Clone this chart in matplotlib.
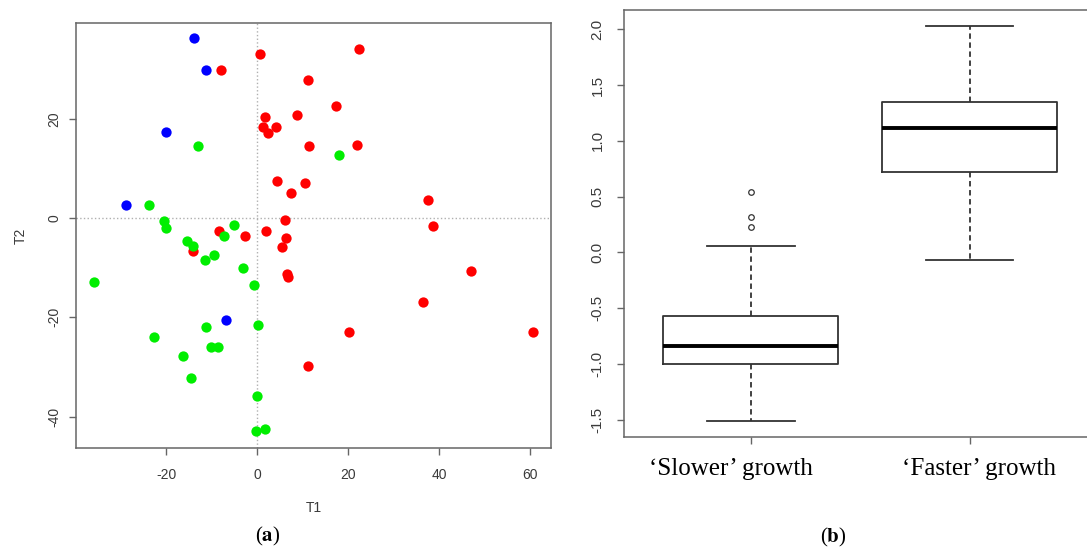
import numpy as np
import matplotlib
matplotlib.use("Agg")
import matplotlib.pyplot as plt

# (a) scores on T1 / T2, one pair of lists per group
red_t1 = [0.7, -7.9, 22.3, 11.1, 17.4, 8.8, 1.8, 1.2, 2.3, 4.2, 11.4, 22.0, 4.4, 7.4, 10.6,
          37.5, 38.7, 6.1, 1.9, 6.3, 5.4, -8.3, -2.6, -14.1, 6.5, 6.7, 47.0, 36.4, 20.2, 60.6, 11.3]
red_t2 = [33.1, 29.8, 34.1, 27.9, 22.6, 20.7, 20.4, 18.3, 17.1, 18.3, 14.6, 14.8, 7.5, 5.1, 7.1,
          3.7, -1.6, -0.4, -2.7, -4.0, -5.9, -2.6, -3.6, -6.7, -11.2, -11.8, -10.6, -16.9, -22.9, -22.9, -29.9]

green_t1 = [-13.0, 18.0, -23.7, -20.5, -20.1, -5.0, -7.2, -15.5, -14.1, -11.4, -9.5, -3.0,
            -0.7, -35.8, 0.1, -11.2, -22.6, -10.2, -8.5, -16.2, -14.5, 0.0, -0.3, 1.8]
green_t2 = [14.6, 12.8, 2.7, -0.5, -1.9, -1.4, -3.7, -4.7, -5.7, -8.4, -7.4, -10.1,
            -13.4, -12.8, -21.5, -22.0, -24.0, -25.9, -25.9, -27.8, -32.2, -35.8, -43.0, -42.5]

blue_t1 = [-13.8, -11.2, -20.1, -28.9, -6.9]
blue_t2 = [36.3, 29.9, 17.3, 2.7, -20.6]

# (b) box summaries
groups = ["\u2018Slower\u2019 growth", "\u2018Faster\u2019 growth"]
box_q1 = [-1.00, 0.723]
box_med = [-0.838, 1.112]
box_q3 = [-0.569, 1.345]
box_lo = [-1.51, -0.069]
box_hi = [0.059, 2.027]
box_out = [[0.538, 0.317, 0.230], []]

TICK_COLOR = "#3a3a3a"
SPINE_COLOR = "#666666"


def r_style_axes(ax, label_size, pad):
    for s in ax.spines.values():
        s.set_color(SPINE_COLOR)
        s.set_linewidth(1.1)
    ax.tick_params(direction="out", length=5, width=1.0, color=SPINE_COLOR,
                   labelcolor=TICK_COLOR, labelsize=label_size, pad=pad)
    ax.tick_params(axis="y", labelrotation=90)
    for lab in ax.get_yticklabels():
        lab.set_va("center")


def draw_scatter(fig):
    ax = fig.add_axes([0.0699, 0.1849, 0.437, 0.774])
    ax.axhline(0, color="#b0b0b0", linestyle=":", linewidth=1.0, zorder=0)
    ax.axvline(0, color="#b0b0b0", linestyle=":", linewidth=1.0, zorder=0)
    ax.scatter(red_t1, red_t2, s=55, c="#ff0000", linewidths=0, zorder=2)
    ax.scatter(green_t1, green_t2, s=55, c="#00ee00", linewidths=0, zorder=3)
    ax.scatter(blue_t1, blue_t2, s=55, c="#0000ff", linewidths=0, zorder=4)
    ax.set_xlim(-39.8, 64.6)
    ax.set_ylim(-46.4, 39.4)
    ax.set_xticks([-20, 0, 20, 40, 60])
    ax.set_yticks([-40, -20, 0, 20])
    ax.set_xlabel("T1", fontsize=10, color=TICK_COLOR, labelpad=14)
    ax.set_ylabel("T2", fontsize=10, color=TICK_COLOR, labelpad=14)
    r_style_axes(ax, 10, 9)
    ax.tick_params(axis="y", pad=5.5)
    return ax


def draw_boxes(fig):
    ax = fig.add_axes([0.574, 0.2049, 0.4348, 0.777])
    stats = []
    for i in range(len(groups)):
        stats.append({"med": box_med[i], "q1": box_q1[i], "q3": box_q3[i],
                      "whislo": box_lo[i], "whishi": box_hi[i],
                      "fliers": box_out[i]})
    ax.bxp(stats, positions=[1, 2], widths=0.8, showfliers=True,
           boxprops=dict(color="#333333", linewidth=1.3),
           medianprops=dict(color="black", linewidth=2.8),
           whiskerprops=dict(color="#333333", linewidth=1.3, linestyle=(0, (3, 2))),
           capprops=dict(color="#333333", linewidth=1.3),
           capwidths=0.4,
           flierprops=dict(marker="o", markersize=4, markerfacecolor="none",
                           markeredgecolor="#333333", markeredgewidth=0.9))
    ax.set_xlim(0.42, 2.58)
    ax.set_ylim(-1.659, 2.173)
    ax.set_yticks([-1.5, -1.0, -0.5, 0.0, 0.5, 1.0, 1.5, 2.0])
    ax.set_yticklabels(["-1.5", "-1.0", "-0.5", "0.0", "0.5", "1.0", "1.5", "2.0"])
    r_style_axes(ax, 11, 9)
    ax.set_xticks([1, 2])
    ax.set_xticklabels(["", ""])
    # group names sit a little off their ticks in the original
    offsets = [-14.2, 6.5]
    for i, name in enumerate(groups):
        ax.annotate(name, xy=(i + 1, 0), xycoords=("data", "axes fraction"),
                    xytext=(offsets[i], -15), textcoords="offset points",
                    ha="center", va="top", fontsize=18, family="Liberation Serif")
    return ax


def main():
    plt.rcParams["font.family"] = ["Liberation Sans", "DejaVu Sans"]
    plt.rcParams["mathtext.fontset"] = "stix"
    plt.rcParams["axes.unicode_minus"] = False
    fig = plt.figure(figsize=(10.87, 5.5), dpi=100)
    fig.patch.set_facecolor("white")

    draw_scatter(fig)
    draw_boxes(fig)

    # panel captions
    fig.text(268 / 1087, 1 - 536 / 550, r"($\mathbf{a}$)", ha="center", va="center",
             fontsize=15, family="Liberation Serif")
    fig.text(833 / 1087, 1 - 537 / 550, r"($\mathbf{b}$)", ha="center", va="center",
             fontsize=15, family="Liberation Serif")

    fig.savefig("out.png", dpi=100)
    plt.close(fig)


if __name__ == "__main__":
    main()
